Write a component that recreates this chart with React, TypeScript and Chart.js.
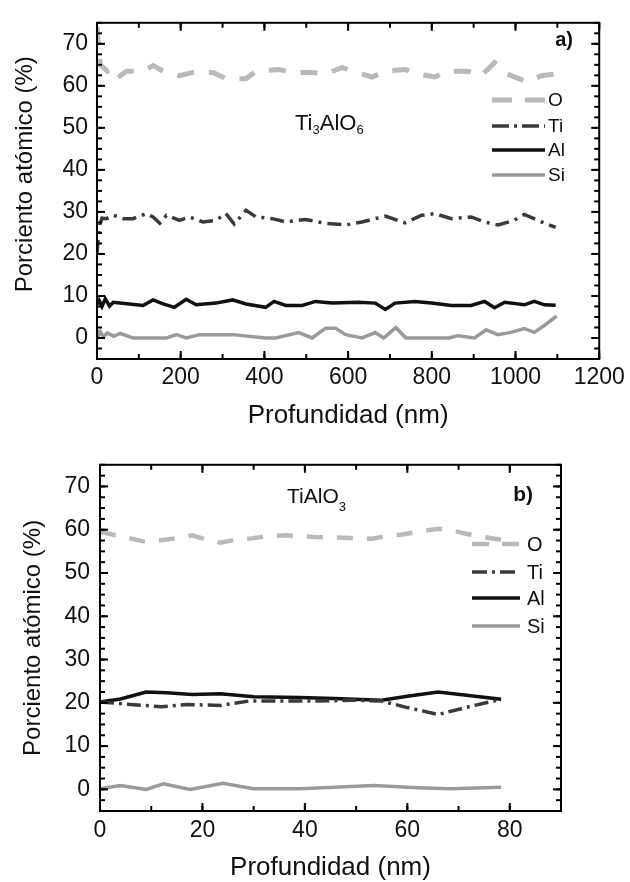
import React, { useEffect, useRef } from 'react';
import { Chart, registerables } from 'chart.js';

Chart.register(...registerables);

const FONT = "'Liberation Sans', Arial, Helvetica, sans-serif";

// ---------- Panel a) Ti3AlO6 ----------
const xTicksA = [0, 200, 400, 600, 800, 1000, 1200];
const yTicks = [0, 10, 20, 30, 40, 50, 60, 70];

const depthO_A = [0, 4, 8, 25, 40, 55, 71, 110, 134, 158, 197, 229, 277, 308, 356, 380, 435, 467, 514, 546, 586, 609, 657, 689, 736, 768, 807, 839, 887, 918, 950, 981, 1029, 1061, 1096];
const oxygenA = [74, 69, 65, 63.5, 64.5, 62.4, 63.5, 63.5, 64.8, 63.5, 62.4, 63.2, 63.2, 61.7, 61.7, 63.5, 63.9, 63.2, 63.2, 62.8, 64.4, 63.5, 62.1, 63.5, 63.9, 62.8, 62.1, 63.5, 63.5, 62.4, 65.5, 62.8, 60.9, 62.4, 62.8];

const depthTi_A = [0, 3, 7, 12, 23, 39, 63, 86, 118, 134, 150, 166, 197, 221, 253, 284, 308, 328, 356, 380, 419, 451, 498, 546, 594, 633, 689, 736, 776, 807, 847, 894, 926, 958, 997, 1021, 1053, 1096];
const titaniumA = [20, 24, 27, 28.5, 28.4, 29.2, 28.4, 28.4, 29.6, 28.8, 27.3, 29.2, 28.0, 28.8, 27.6, 28.0, 29.6, 27.1, 30.4, 28.8, 28.4, 27.6, 28.2, 27.3, 26.9, 27.6, 29.0, 27.4, 29.2, 29.6, 28.4, 28.8, 27.6, 26.9, 28.0, 29.4, 28.0, 26.3];

const depthAl_A = [0, 5, 12, 20, 30, 39, 55, 110, 134, 158, 185, 213, 237, 284, 324, 356, 403, 423, 451, 490, 522, 562, 625, 665, 689, 712, 760, 799, 847, 894, 926, 950, 974, 1021, 1045, 1069, 1096];
const aluminumA = [8.0, 9.0, 7.5, 9.3, 7.6, 8.5, 8.3, 7.75, 9.06, 8.1, 7.3, 9.2, 7.9, 8.3, 9.06, 8.1, 7.3, 8.7, 7.75, 7.75, 8.7, 8.3, 8.5, 8.3, 6.8, 8.3, 8.7, 8.3, 7.75, 7.75, 8.7, 7.2, 8.5, 7.9, 8.7, 7.9, 7.8];

const depthSi_A = [0, 3, 8, 15, 25, 40, 55, 86, 166, 190, 213, 245, 324, 403, 427, 482, 514, 546, 570, 594, 633, 665, 685, 714, 738, 841, 863, 902, 930, 958, 989, 1021, 1045, 1073, 1098];
const siliconA = [2.0, 0.5, 1.5, 0.3, 1.2, 0.4, 1.1, 0, 0, 0.8, 0, 0.8, 0.8, 0, 0, 1.3, 0, 2.3, 2.3, 0.8, 0, 1.3, 0, 2.5, 0, 0, 0.55, 0, 1.95, 0.8, 1.33, 2.26, 1.33, 3.27, 5.2];

// ---------- Panel b) TiAlO3 ----------
const xTicksB = [0, 20, 40, 60, 80];

const depthO_B = [0, 9, 15, 18, 20.5, 23.5, 26.5, 29.5, 32.5, 36.5, 42, 49, 53, 56, 59, 62, 66, 68, 71, 74, 78.3];
const oxygenB = [59.5, 57.2, 58.0, 58.7, 57.8, 57.0, 57.7, 58.0, 58.5, 58.7, 58.3, 58.1, 57.9, 58.5, 58.9, 59.5, 60.2, 60.0, 59.2, 58.5, 57.7];

const depthTi_B = [0, 6, 12, 17, 23.5, 29, 35, 42, 49.6, 55, 60, 66, 72, 78.3];
const titaniumB = [20.2, 19.6, 19.1, 19.6, 19.4, 20.4, 20.4, 20.4, 20.6, 20.4, 18.9, 17.3, 19.1, 20.8];

const depthAl_B = [0, 4, 9, 13, 18, 23.5, 30, 39, 45.7, 55, 60, 66, 72, 78.3];
const aluminumB = [20.2, 20.9, 22.5, 22.3, 21.9, 22.1, 21.4, 21.2, 21.0, 20.6, 21.5, 22.5, 21.7, 20.8];

const depthSi_B = [0, 4, 9, 12.4, 17.6, 24, 30, 39, 53.5, 62, 68.5, 78.3];
const siliconB = [0.15, 0.9, 0.0, 1.3, 0.0, 1.4, 0.15, 0.15, 0.9, 0.4, 0.15, 0.5];

const seriesLabels = ['O', 'Ti', 'Al', 'Si'];

const zip = (xs: number[], ys: number[]) => xs.map((x, i) => ({ x, y: ys[i] }));

const decorPlugin = {
  id: 'decor',
  afterDatasetsDraw(chart: any, _args: any, opts: any) {
    const { ctx, chartArea: ca, scales } = chart;
    const xs = scales.x;
    const ys = scales.y;
    ctx.save();
    ctx.setLineDash([]);
    ctx.strokeStyle = '#000';
    ctx.lineWidth = 2;
    const seg = (x1: number, y1: number, x2: number, y2: number) => {
      ctx.beginPath();
      ctx.moveTo(x1, y1);
      ctx.lineTo(x2, y2);
      ctx.stroke();
    };
    const MAJ = 8;
    const MIN = 5;
    for (let v = xs.min; v <= xs.max + 1e-6; v += opts.xMinor) {
      const p = xs.getPixelForValue(v);
      seg(p, ca.bottom, p, ca.bottom - MIN);
      seg(p, ca.top, p, ca.top + MIN);
    }
    xs.ticks.forEach((t: any) => {
      const p = xs.getPixelForValue(t.value);
      seg(p, ca.bottom, p, ca.bottom - MAJ);
      seg(p, ca.top, p, ca.top + MAJ);
    });
    for (let v = ys.min; v <= ys.max + 1e-6; v += opts.yMinor) {
      const p = ys.getPixelForValue(v);
      seg(ca.left, p, ca.left + MIN, p);
      seg(ca.right, p, ca.right - MIN, p);
    }
    ys.ticks.forEach((t: any) => {
      const p = ys.getPixelForValue(t.value);
      seg(ca.left, p, ca.left + MAJ, p);
      seg(ca.right, p, ca.right - MAJ, p);
    });
    ctx.lineWidth = 2;
    ctx.strokeRect(ca.left, ca.top, ca.right - ca.left, ca.bottom - ca.top);

    const lg = opts.legend;
    chart.data.datasets.forEach((ds: any, i: number) => {
      const y = lg.rows[i];
      ctx.beginPath();
      ctx.setLineDash(lg.dash[i] || []);
      ctx.lineWidth = ds.borderWidth;
      ctx.strokeStyle = ds.borderColor;
      ctx.moveTo(lg.x0, y);
      ctx.lineTo(lg.x1, y);
      ctx.stroke();
      ctx.setLineDash([]);
      ctx.fillStyle = '#111';
      ctx.font = `${lg.size}px ${FONT}`;
      ctx.textAlign = 'left';
      ctx.textBaseline = 'middle';
      ctx.fillText(ds.label, lg.textX, y + 1);
    });

    const tag = opts.tag;
    ctx.fillStyle = '#111';
    ctx.font = `bold ${tag.size}px ${FONT}`;
    ctx.textAlign = 'right';
    ctx.textBaseline = 'middle';
    ctx.fillText(tag.text, tag.x, tag.y);

    const f = opts.formula;
    let cx = f.x;
    ctx.textAlign = 'left';
    ctx.textBaseline = 'alphabetic';
    f.parts.forEach((p: any) => {
      ctx.font = `${p.sub ? f.subSize : f.size}px ${FONT}`;
      ctx.fillText(p.t, cx, f.y + (p.sub ? f.subDy : 0));
      cx += ctx.measureText(p.t).width;
    });
    ctx.restore();
  },
};

function makeScales(cfg: any) {
  return {
    x: {
      type: 'linear',
      min: cfg.xMin,
      max: cfg.xMax,
      afterBuildTicks: (s: any) => {
        s.ticks = cfg.xTicks.map((v: number) => ({ value: v }));
      },
      grid: { display: false, drawTicks: false },
      border: { display: false },
      ticks: {
        padding: cfg.xPad,
        font: { size: 23, family: FONT },
        color: '#111',
        maxRotation: 0,
        autoSkip: false,
        callback: (v: any) => String(v),
      },
      title: {
        display: true,
        text: 'Profundidad (nm)',
        font: { size: 26, family: FONT },
        color: '#111',
        padding: cfg.xTitlePad,
      },
    },
    y: {
      type: 'linear',
      min: -5,
      max: 75,
      afterBuildTicks: (s: any) => {
        s.ticks = yTicks.map((v) => ({ value: v }));
      },
      grid: { display: false, drawTicks: false },
      border: { display: false },
      ticks: {
        padding: cfg.yPad,
        font: { size: 23, family: FONT },
        color: '#111',
        callback: (v: any) => String(v),
      },
      title: {
        display: true,
        text: cfg.yTitle,
        font: { size: 24, family: FONT },
        color: '#111',
        padding: cfg.yTitlePad,
      },
    },
  };
}

function makeDatasets(o: any[], ti: any[], al: any[], si: any[], oDash: number[], tiDash: number[], oWidth: number) {
  return [
    { label: seriesLabels[0], data: o, borderColor: '#b9b9b9', borderWidth: oWidth, borderDash: oDash, pointRadius: 0, fill: false },
    { label: seriesLabels[1], data: ti, borderColor: '#3a3a3a', borderWidth: 3.5, borderDash: tiDash, pointRadius: 0, fill: false },
    { label: seriesLabels[2], data: al, borderColor: '#111111', borderWidth: 3.5, pointRadius: 0, fill: false },
    { label: seriesLabels[3], data: si, borderColor: '#9a9a9a', borderWidth: 3.5, pointRadius: 0, fill: false },
  ];
}

function PanelA() {
  const ref = useRef<HTMLCanvasElement>(null);
  useEffect(() => {
    const chart = new Chart(ref.current as HTMLCanvasElement, {
      type: 'line',
      data: {
        datasets: makeDatasets(
          zip(depthO_A, oxygenA),
          zip(depthTi_A, titaniumA),
          zip(depthAl_A, aluminumA),
          zip(depthSi_A, siliconA),
          [17, 15],
          [14, 6, 3, 6],
          5
        ) as any,
      },
      options: {
        animation: false,
        responsive: false,
        devicePixelRatio: 1,
        layout: { padding: { top: 14, right: 28, left: 0, bottom: 0 } },
        plugins: {
          legend: { display: false },
          tooltip: { enabled: false },
          decor: {
            xMinor: 100,
            yMinor: 2.5,
            legend: { x0: 492, x1: 545, textX: 548, rows: [100, 126, 150, 175], size: 19, dash: [[20, 13], [17, 5, 3, 5], [], []] },
            tag: { text: 'a)', x: 573, y: 40, size: 20 },
            formula: { x: 295, y: 130, size: 22, subSize: 13, subDy: 4, parts: [{ t: 'Ti' }, { t: '3', sub: true }, { t: 'AlO' }, { t: '6', sub: true }] },
          },
        } as any,
        scales: makeScales({
          xMin: 0,
          xMax: 1200,
          xTicks: xTicksA,
          xPad: 5.2,
          xTitlePad: { top: 3.4, bottom: 9.4 },
          yPad: 9,
          yTitle: '     Porciento atómico (%)',
          yTitlePad: { top: 10.6, bottom: 14.0 },
        }) as any,
      },
      plugins: [decorPlugin as any],
    });
    return () => chart.destroy();
  }, []);
  return <canvas ref={ref} width={630} height={441} style={{ position: 'absolute', left: 0, top: 0, display: 'block' }} />;
}

function PanelB() {
  const ref = useRef<HTMLCanvasElement>(null);
  useEffect(() => {
    const chart = new Chart(ref.current as HTMLCanvasElement, {
      type: 'line',
      data: {
        datasets: makeDatasets(
          zip(depthO_B, oxygenB),
          zip(depthTi_B, titaniumB),
          zip(depthAl_B, aluminumB),
          zip(depthSi_B, siliconB),
          [16, 14],
          [14, 5, 3, 5],
          4.5
        ) as any,
      },
      options: {
        animation: false,
        responsive: false,
        devicePixelRatio: 1,
        layout: { padding: { top: 18, right: 69, left: 0, bottom: 0 } },
        plugins: {
          legend: { display: false },
          tooltip: { enabled: false },
          decor: {
            xMinor: 10,
            yMinor: 2.5,
            legend: { x0: 472, x1: 520, textX: 527, rows: [103, 131, 157, 185], size: 20, dash: [[17, 13], [15, 5, 3, 5], [], []] },
            tag: { text: 'b)', x: 533, y: 54, size: 21 },
            formula: { x: 287, y: 62, size: 21, subSize: 13, subDy: 8, parts: [{ t: 'TiAlO' }, { t: '3', sub: true }] },
          },
        } as any,
        scales: makeScales({
          xMin: 0,
          xMax: 90,
          xTicks: xTicksB,
          xPad: 5.9,
          xTitlePad: { top: 2.0, bottom: 2.4 },
          yPad: 10,
          yTitle: 'Porciento atómico (%)',
          yTitlePad: { top: 18.9, bottom: 6.7 },
        }) as any,
      },
      plugins: [decorPlugin as any],
    });
    return () => chart.destroy();
  }, []);
  return <canvas ref={ref} width={630} height={445} style={{ position: 'absolute', left: 0, top: 441, display: 'block' }} />;
}

export default function App() {
  return (
    <div style={{ position: 'fixed', left: 0, top: 0, width: 630, height: 882, overflow: 'hidden', background: '#fff' }}>
      <PanelA />
      <PanelB />
    </div>
  );
}
